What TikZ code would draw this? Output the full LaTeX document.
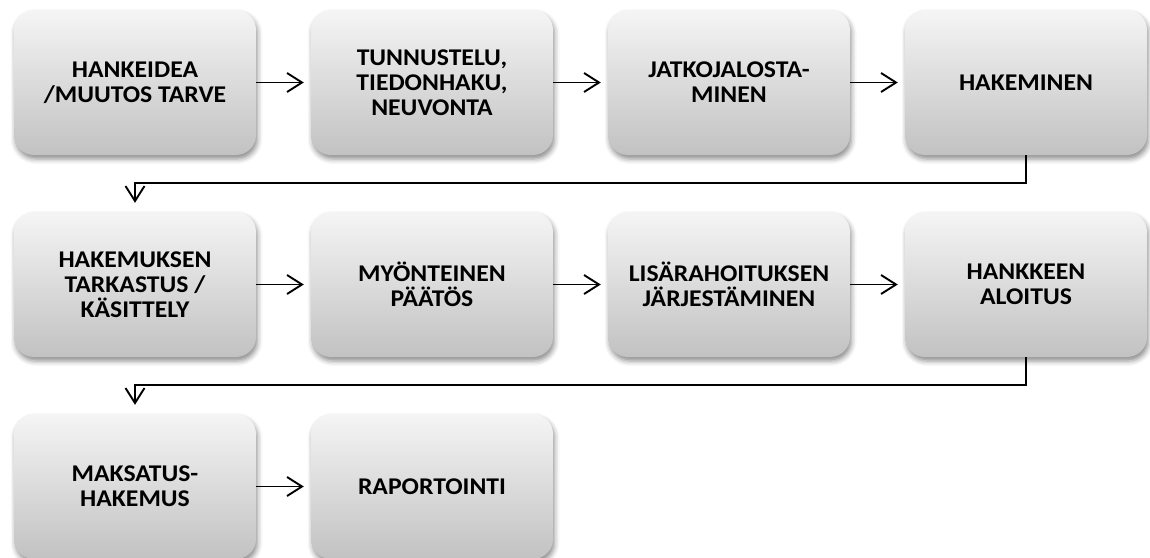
\documentclass[tikz,border=0pt]{standalone}
\usepackage{fontspec}
\setmainfont[FakeStretch=1.07]{Carlito}
\usetikzlibrary{arrows.meta,shadows.blur}
\tikzset{
  stepbox/.style={rounded corners=20pt, minimum width=242pt, minimum height=145pt,
    top color=white!96!black, bottom color=white!76!black, draw=none,
    align=center, font=\fontsize{24}{25}\selectfont\bfseries, text=black,
    blur shadow={shadow xshift=1.5pt, shadow yshift=-4pt, shadow blur radius=5pt, shadow opacity=45}},
  arr/.style={line width=1.9pt, -{Straight Barb[length=15pt,width=19pt,line width=1.9pt]}},
}
\begin{document}
\begin{tikzpicture}[x=1pt,y=-1pt]
\useasboundingbox (0,0) rectangle (1150,557);
\clip (0,0) rectangle (1150,557);
\node[stepbox] (n1) at (135,82.5) {HANKEIDEA\\/MUUTOS TARVE};
\node[stepbox] (n2) at (432,82.5) {TUNNUSTELU,\\TIEDONHAKU,\\NEUVONTA};
\node[stepbox] (n3) at (729,82.5) {JATKOJALOSTA-\\MINEN};
\node[stepbox] (n4) at (1026,82.5) {HAKEMINEN};
\node[stepbox] (n5) at (135,284.5) {HAKEMUKSEN\\TARKASTUS /\\KÄSITTELY};
\node[stepbox] (n6) at (432,284.5) {MYÖNTEINEN\\PÄÄTÖS};
\node[stepbox] (n7) at (729,284.5) {LISÄRAHOITUKSEN\\JÄRJESTÄMINEN};
\node[stepbox] (n8) at (1026,284.5) {HANKKEEN\\ALOITUS};
\node[stepbox] (n9) at (135,486.5) {MAKSATUS-\\HAKEMUS};
\node[stepbox] (n10) at (432,486.5) {RAPORTOINTI};
\coordinate (b1) at (1026,183);
\coordinate (b2) at (1026,385);
\draw[arr, shorten >=7pt] (n1) -- (n2);
\draw[arr, shorten >=7pt] (n2) -- (n3);
\draw[arr, shorten >=7pt] (n3) -- (n4);
\draw[arr, shorten >=9pt] (n4.south) -- (b1) -| (n5.north);
\draw[arr, shorten >=7pt] (n5) -- (n6);
\draw[arr, shorten >=7pt] (n6) -- (n7);
\draw[arr, shorten >=7pt] (n7) -- (n8);
\draw[arr, shorten >=9pt] (n8.south) -- (b2) -| (n9.north);
\draw[arr, shorten >=7pt] (n9) -- (n10);
\end{tikzpicture}
\end{document}
